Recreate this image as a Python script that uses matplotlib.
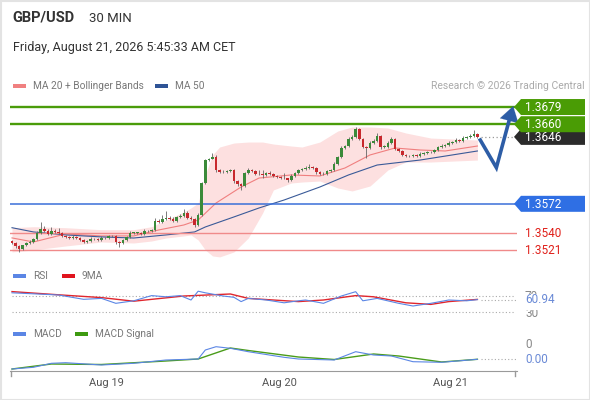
import numpy as np
import matplotlib.pyplot as plt
from matplotlib.patches import Polygon, Rectangle

plt.rcParams['font.family'] = ['Roboto', 'DejaVu Sans']

# GBP/USD 30 min candles, closes (last one 1.3646)
first_open = 1.3531
closes = [
    1.3529, 1.3525, 1.3522, 1.3526, 1.3529, 1.3530, 1.3533, 1.3540, 1.3544, 1.3542,
    1.3539, 1.3542, 1.3541, 1.3540, 1.3536, 1.3535, 1.3534, 1.3535, 1.3534, 1.3532,
    1.3530, 1.3531, 1.3533, 1.3533, 1.3532, 1.3534, 1.3534, 1.3536, 1.3536, 1.3530,
    1.3529, 1.3532, 1.3535, 1.3540, 1.3540, 1.3540, 1.3539, 1.3542, 1.3542, 1.3543,
    1.3553, 1.3552, 1.3555, 1.3556, 1.3555, 1.3553, 1.3557, 1.3558, 1.3562, 1.3556,
    1.3555, 1.3549, 1.3560, 1.3595, 1.3620, 1.3622, 1.3624, 1.3609, 1.3607, 1.3607,
    1.3608, 1.3609, 1.3597, 1.3594, 1.3592, 1.3606, 1.3609, 1.3608, 1.3605, 1.3605,
    1.3604, 1.3606, 1.3605, 1.3603, 1.3602, 1.3601, 1.3600, 1.3598, 1.3603, 1.3606,
    1.3609, 1.3610, 1.3612, 1.3613, 1.3612, 1.3607, 1.3605, 1.3605, 1.3608, 1.3609,
    1.3616, 1.3624, 1.3634, 1.3636, 1.3644, 1.3646, 1.3655, 1.3644, 1.3635, 1.3634,
    1.3639, 1.3641, 1.3647, 1.3635, 1.3635, 1.3639, 1.3644, 1.3633, 1.3630, 1.3626,
    1.3625, 1.3625, 1.3626, 1.3625, 1.3627, 1.3628, 1.3629, 1.3629, 1.3631, 1.3635,
    1.3636, 1.3637, 1.3639, 1.3640, 1.3643, 1.3641, 1.3645, 1.3646, 1.3647, 1.3649,
    1.3646,
]
# wick length in pips above / below the body
wick_up = [
    1, 1, 1, 1, 1, 2, 1, 2, 8, 3,
    2, 4, 2, 4, 1, 1, 1, 2, 1, 1,
    1, 1, 2, 1, 1, 2, 1, 2, 2, 1,
    1, 1, 1, 2, 1, 1, 1, 2, 1, 1,
    3, 2, 5, 8, 2, 2, 2, 3, 4, 2,
    2, 1, 2, 1, 2, 1, 4, 2, 1, 2,
    1, 2, 1, 1, 1, 1, 3, 2, 1, 4,
    4, 1, 2, 1, 1, 1, 5, 1, 2, 1,
    2, 2, 2, 3, 1, 1, 1, 2, 1, 1,
    2, 1, 2, 1, 2, 2, 2, 1, 1, 1,
    2, 3, 3, 1, 2, 2, 2, 1, 1, 1,
    1, 1, 1, 1, 2, 1, 1, 1, 2, 1,
    2, 1, 2, 1, 2, 1, 2, 1, 2, 5,
    1,
]
wick_dn = [
    1, 2, 3, 1, 1, 1, 1, 1, 1, 1,
    1, 1, 1, 1, 1, 1, 1, 1, 1, 1,
    1, 1, 1, 1, 1, 1, 1, 1, 1, 2,
    5, 1, 1, 1, 1, 1, 1, 1, 1, 1,
    1, 1, 1, 1, 1, 1, 1, 1, 1, 1,
    1, 3, 1, 1, 1, 1, 1, 2, 1, 1,
    1, 1, 2, 2, 5, 1, 1, 1, 1, 1,
    4, 1, 1, 1, 1, 2, 1, 2, 1, 1,
    1, 1, 1, 1, 1, 2, 1, 1, 1, 1,
    1, 1, 1, 1, 1, 1, 1, 2, 1, 11,
    1, 1, 1, 2, 1, 1, 1, 2, 1, 1,
    1, 1, 1, 1, 1, 1, 1, 1, 1, 1,
    1, 1, 1, 1, 1, 1, 1, 1, 1, 1,
    1,
]
day_ticks = [26.5, 74.6, 122.6]
day_labels = ['Aug 19', 'Aug 20', 'Aug 21']

# MA 20 and Bollinger bands, MA 50 (candle index, price)
ma20_at = [0, 6, 15, 25, 34, 41, 48, 52, 57, 64, 69, 78, 86, 93, 100, 107, 114, 121, 130]
ma20 = [1.35343, 1.35298, 1.35387, 1.35365, 1.35365, 1.35431, 1.35486, 1.35541, 1.35729,
        1.35906, 1.36005, 1.36039, 1.36028, 1.36116, 1.36260, 1.36337, 1.36315, 1.36304, 1.36359]
band_at = [0, 6, 15, 25, 34, 39, 43, 48, 50, 52, 54, 56, 58, 62, 66, 70, 73, 78, 81, 86,
           91, 95, 100, 105, 110, 117, 130]
band_up = [1.35456, 1.35467, 1.35456, 1.35434, 1.35434, 1.35467, 1.35541, 1.35630, 1.35674,
           1.35729, 1.36039, 1.36260, 1.36348, 1.36392, 1.36403, 1.36403, 1.36381, 1.36359,
           1.36348, 1.36403, 1.36525, 1.36569, 1.36569, 1.36558, 1.36503, 1.36447, 1.36425]
band_dn = [1.35188, 1.35210, 1.35254, 1.35298, 1.35287, 1.35309, 1.35342, 1.35365, 1.35376,
           1.35320, 1.35210, 1.35144, 1.35133, 1.35188, 1.35342, 1.35619, 1.35873, 1.35950,
           1.35961, 1.35972, 1.35895, 1.35862, 1.35917, 1.36094, 1.36182, 1.36182, 1.36204]
ma50_at = [0, 6, 15, 25, 34, 43, 51, 54, 62, 69, 76, 86, 94, 102, 114, 130]
ma50 = [1.35456, 1.35409, 1.35376, 1.35354, 1.35342, 1.35376, 1.35409, 1.35464, 1.35575,
        1.35674, 1.35762, 1.35906, 1.36039, 1.36149, 1.36204, 1.36304]

resistances = [1.3679, 1.3660]
pivot = 1.3572
supports = [1.3540, 1.3521]
forecast_x = [130.8, 135.3, 140.0]
forecast_y = [1.36425, 1.36120, 1.36800]

# RSI and its 9 period MA
rsi_at = [0, 13, 20, 25, 29, 34, 39, 43, 47, 50, 52, 54, 59, 62, 64, 66, 71, 76, 80, 82,
          87, 92, 96, 98, 102, 108, 112, 117, 122, 127, 130]
rsi = [78, 72.5, 61.7, 64, 51.7, 58, 71, 68, 71, 60, 82, 78, 70, 66.7, 56, 64, 60, 53, 58, 60,
       51.7, 70, 80.8, 58, 64, 51.7, 45, 51.7, 60, 58, 60.94]
rsi_ma_at = [0, 13, 25, 34, 48, 61, 66, 80, 87, 96, 101, 110, 117, 122, 130]
rsi_ma = [81, 73, 66, 57, 70, 75, 64, 56, 60, 71, 68, 53, 49, 56, 61.5]

# MACD and signal
macd_at = [0, 6, 11, 15, 25, 34, 43, 52, 54, 57, 61, 66, 76, 80, 90, 96, 101, 106, 112, 120, 130]
macd = [-0.00100, -0.00083, -0.00043, -0.00037, -0.00060, -0.00043, -0.00010, 0.0, 0.00090,
        0.00123, 0.00107, 0.00073, 0.00017, 0.0, -0.00010, 0.00073, 0.00040, 0.00030,
        -0.00027, -0.00033, -0.00003]
signal_at = [0, 11, 25, 43, 52, 61, 66, 80, 90, 101, 108, 120, 130]
signal = [-0.00100, -0.00050, -0.00055, -0.00020, 0.0, 0.00110, 0.00085, 0.00020, -0.00005,
          0.00050, 0.00030, -0.00030, -0.00003]

PIP = 0.0001
GREEN, RED = '#3b8a3a', '#c8282d'
W, H = 590, 400
STEP = 3.58
X0, X1 = 10, 517
fig = plt.figure(figsize=(W / 100, H / 100), dpi=100)


def px_axes(top, bottom):
    a = fig.add_axes([X0 / W, 1 - bottom / H, (X1 - X0) / W, (bottom - top) / H])
    a.set_xlim((X0 - 12) / STEP, (X1 - 12) / STEP)
    return a


# main price panel
ax = px_axes(95, 258)
ax.set_ylim(1.35121, 1.36923)
ax.axis('off')

ax.fill_between(band_at, band_dn, band_up, color='#fde0e0', lw=0, zorder=1)
ax.plot(ma20_at, ma20, color='#f07f7f', lw=0.8, zorder=2)
ax.plot(ma50_at, ma50, color='#3a5a98', lw=0.8, zorder=2)

for lvl in resistances:
    ax.axhline(lvl, color='#4a9c0a', lw=1.7, zorder=2)
ax.axhline(pivot, color='#3a6fd8', lw=1.1, zorder=2)
for lvl in supports:
    ax.axhline(lvl, color='#f08a8a', lw=1.0, zorder=2)

idx = np.arange(len(closes))
c = np.array(closes)
o = np.array([first_open] + closes[:-1])
top = np.maximum(o, c)
bot = np.minimum(o, c)
hi = top + np.array(wick_up) * PIP
lo = bot - np.array(wick_dn) * PIP
cols = np.where(c >= o, GREEN, RED)
ax.vlines(idx, lo, hi, color='#666666', lw=0.6, zorder=3)
ax.bar(idx, np.maximum(top - bot, 0.00004), bottom=bot, width=0.72, color=cols, lw=0, zorder=4)

ax.hlines(closes[-1], len(closes), ax.get_xlim()[1], color='#999999', lw=0.9,
          linestyles=(0, (1, 2)), zorder=2)

arrow_col = '#2d5da6'
ax.plot(forecast_x[:2] + [forecast_x[2] - 0.8], forecast_y[:2] + [forecast_y[2] - 0.0011],
        color=arrow_col, lw=2.6, solid_joinstyle='miter', zorder=6, clip_on=False)
ax.annotate('', xy=(forecast_x[2], forecast_y[2]), xytext=(forecast_x[1], forecast_y[1]),
            arrowprops=dict(arrowstyle='-|>,head_length=0.6,head_width=0.38', color=arrow_col,
                            lw=0.1, shrinkA=30, shrinkB=0, mutation_scale=18),
            zorder=7, annotation_clip=False)

# RSI panel
ar = px_axes(285, 315)
ar.set_ylim(22.5, 97.5)
ar.axis('off')
for lvl in (70, 30):
    ar.axhline(lvl, xmin=0.004, xmax=0.995, color='#aaaaaa', lw=0.8, ls=(0, (1, 2)))
ar.plot(rsi_ma_at, rsi_ma, color='#e0262d', lw=1.0)
ar.plot(rsi_at, rsi, color='#5b86e5', lw=0.8)
ar.hlines(rsi[-1], len(closes), ar.get_xlim()[1], color='#aaaaaa', lw=0.8, linestyles=(0, (1, 2)))

# MACD panel
am = px_axes(338, 371)
am.set_ylim(-0.0012, 0.0021)
am.plot(signal_at, signal, color='#4a9c1a', lw=1.0)
am.plot(macd_at, macd, color='#5b86e5', lw=0.8)
am.hlines(macd[-1], len(closes), am.get_xlim()[1], color='#aaaaaa', lw=0.8, linestyles=(0, (1, 2)))
for s in ('top', 'left', 'right'):
    am.spines[s].set_visible(False)
am.spines['bottom'].set_color('#9a9a9a')
am.set_facecolor('none')
am.set_yticks([])
am.set_xticks(day_ticks, day_labels)
am.tick_params(axis='x', length=0, pad=5, labelsize=8, labelcolor='#555555')

# overlay in pixel coordinates for header, legends and price tags
ov = fig.add_axes([0, 0, 1, 1], zorder=10)
ov.set_xlim(0, W)
ov.set_ylim(H, 0)
ov.axis('off')


def ypx(axis, v):
    return H - axis.transData.transform((0, v))[1]


ov.add_patch(Rectangle((0.5, 0.5), W - 1, H - 1, fill=False, ec='#e3e3e3', lw=1.5))
ov.plot([X0 + 1, X0 + 1], [371, 376], color='#9a9a9a', lw=1)
ov.plot([X1 - 2, X1 - 2], [371, 376], color='#9a9a9a', lw=1)

ov.text(12, 18, 'GBP/USD', fontsize=10.5, fontweight='bold', color='#333333', va='center')
ov.text(89, 18, '30 MIN', fontsize=9.5, color='#333333', va='center')
ov.text(13, 48, 'Friday, August 21, 2026 5:45:33 AM CET', fontsize=9, color='#333333', va='center')
ov.text(585, 86, 'Research \u00a9 2026 Trading Central', fontsize=7.5, color='#aaaaaa',
        va='center', ha='right')


def legend_item(x, y, color, label):
    ov.add_patch(Rectangle((x, y - 2), 13, 4, color=color, lw=0))
    ov.text(x + 20, y, label, fontsize=7.3, color='#777777', va='center')


legend_item(13, 86, '#f08080', 'MA 20 + Bollinger Bands')
legend_item(155, 86, '#2f5496', 'MA 50')
legend_item(13, 276, '#5b86e5', 'RSI')
legend_item(62, 276, '#e0141e', '9MA')
legend_item(13, 334, '#5b86e5', 'MACD')
legend_item(75, 334, '#3d9a10', 'MACD Signal')


def flag(y, label, color):
    ov.add_patch(Polygon([(514, y), (521, y - 8), (585, y - 8), (585, y + 8), (521, y + 8)],
                         closed=True, color=color, lw=0, zorder=3))
    ov.text(525, y + 0.5, label, color='white', fontsize=8.5, va='center', zorder=3.1)


flag(ypx(ax, closes[-1]), f'{closes[-1]:.4f}', '#2b2b2b')
for lvl in resistances[::-1]:
    flag(ypx(ax, lvl), f'{lvl:.4f}', '#4a9c05')
flag(ypx(ax, pivot), f'{pivot:.4f}', '#2f6fe4')
for lvl in supports:
    ov.text(525, ypx(ax, lvl) + 0.5, f'{lvl:.4f}', color='#e0201a', fontsize=8.5, va='center')

# scale labels half hidden behind the current value tags
ov.text(525, ypx(ar, 70), '70', color='#888888', fontsize=8.5, va='center', zorder=3)
ov.text(525, ypx(ar, 30) + 1.5, '30', color='#888888', fontsize=8.5, va='center', zorder=3)
ov.add_patch(Rectangle((520, 294), 45, 16, color='white', lw=0, zorder=4))
ov.text(525, ypx(ar, rsi[-1]), f'{rsi[-1]:.2f}', color='#6a8ad6', fontsize=8.5, va='center',
        zorder=5)

ov.text(525, ypx(am, 0.0014), '0', color='#888888', fontsize=8.5, va='center')
ov.text(525, ypx(am, macd[-1]), f'{abs(macd[-1]):.2f}', color='#6a8ad6', fontsize=8.5, va='center')

fig.savefig('out.png', dpi=100)
